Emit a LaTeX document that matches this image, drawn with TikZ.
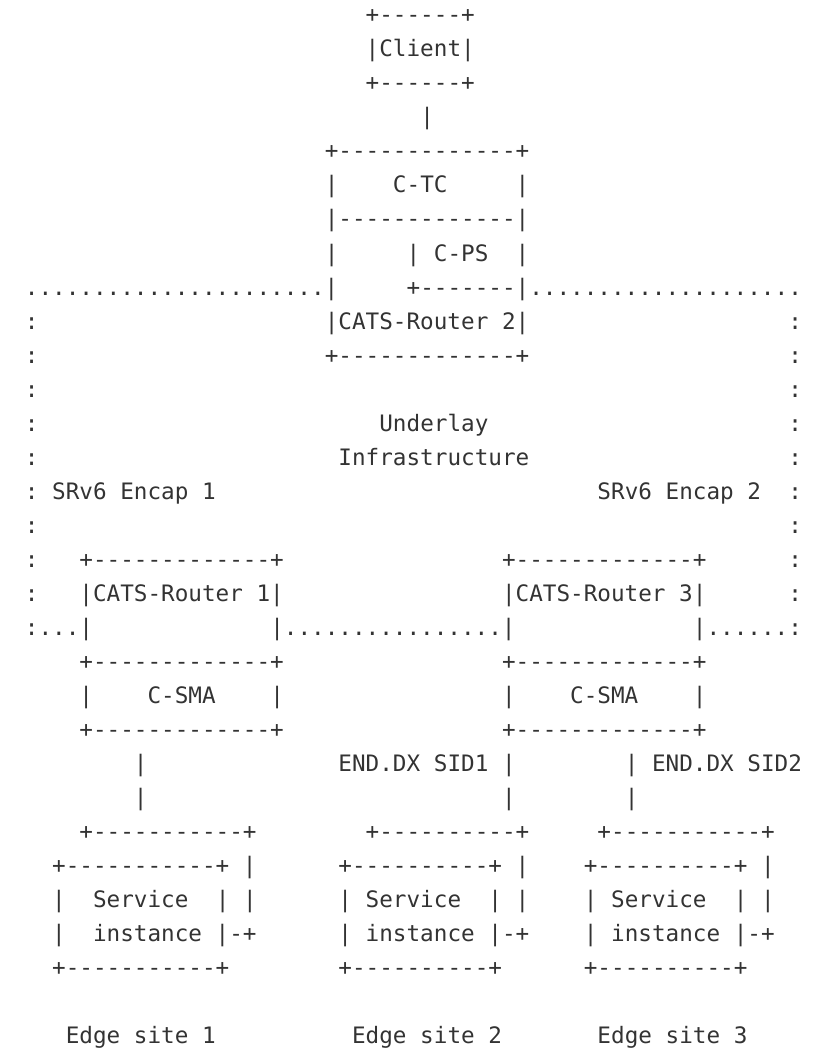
\documentclass[tikz,border=0pt]{standalone}
\usepackage{fontspec}
\setmonofont{DejaVu Sans Mono}
\definecolor{asciigray}{HTML}{333333}

\tikzstyle{asciitext} = [anchor=base west, inner sep=0pt, outer sep=0pt,
    text=asciigray, font=\ttfamily\fontsize{11.32pt}{13pt}\selectfont]

\begin{document}
\begin{tikzpicture}[x=6.8165pt, y=-17pt]
    \useasboundingbox (-1.8265,-0.6765) rectangle (58.6886,30.1471);

    % row/column/text of every piece of the figure
    \foreach \row/\col/\txt in {
        0/25/+------+, 1/25/|Client|, 2/25/+------+, 3/29/|,
        4/22/+-------------+,
        5/22/|, 5/27/C-TC, 5/36/|,
        6/22/|-------------|,
        7/22/|, 7/28/| C-PS, 7/36/|,
        8/0/{......................|}, 8/28/{+-------|....................},
        9/0/:, 9/22/|CATS-Router 2|, 9/56/:,
        10/0/:, 10/22/+-------------+, 10/56/:,
        11/0/:, 11/56/:,
        12/0/:, 12/26/Underlay, 12/56/:,
        13/0/:, 13/23/Infrastructure, 13/56/:,
        14/0/: SRv6 Encap 1, 14/42/SRv6 Encap 2, 14/56/:,
        15/0/:, 15/56/:,
        16/0/:, 16/4/+-------------+, 16/35/+-------------+, 16/56/:,
        17/0/:, 17/4/|CATS-Router 1|, 17/35/|CATS-Router 3|, 17/56/:,
        18/0/{:...|}, 18/18/{|................|}, 18/49/{|......:},
        19/4/+-------------+, 19/35/+-------------+,
        20/4/|, 20/9/C-SMA, 20/18/|, 20/35/|, 20/40/C-SMA, 20/49/|,
        21/4/+-------------+, 21/35/+-------------+,
        22/8/|, 22/23/END.DX SID1 |, 22/44/| END.DX SID2,
        23/8/|, 23/35/|, 23/44/|,
        24/4/+-----------+, 24/25/+----------+, 24/42/+-----------+,
        25/2/+-----------+ |, 25/23/+----------+ |, 25/41/+----------+ |,
        26/2/|, 26/5/Service, 26/14/| |, 26/23/| Service, 26/34/| |,
        26/41/| Service, 26/52/| |,
        27/2/|, 27/5/instance |-+, 27/23/| instance |-+, 27/41/| instance |-+,
        28/2/+-----------+, 28/23/+----------+, 28/41/+----------+,
        30/3/Edge site 1, 30/24/Edge site 2, 30/42/Edge site 3}
        \node[asciitext] (R\row-\col) at (\col,\row) {\txt};
\end{tikzpicture}
\end{document}
